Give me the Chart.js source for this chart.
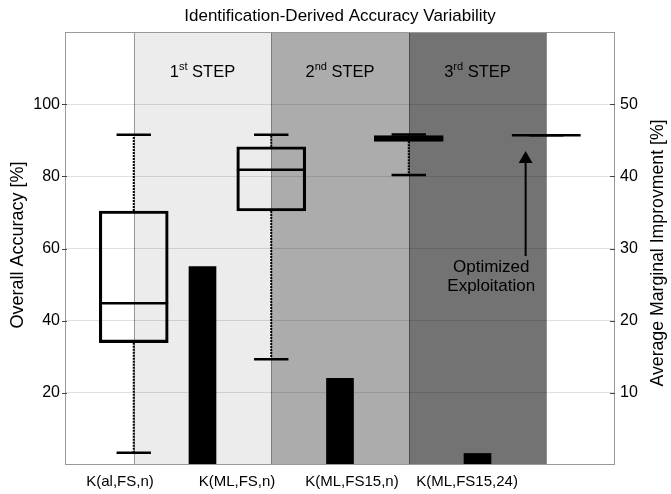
<!DOCTYPE html>
<html><head><meta charset="utf-8">
<script src="https://cdn.jsdelivr.net/npm/chart.js@4"></script>
<style>html,body{margin:0;padding:0;background:#fff}</style>
</head><body>
<canvas id="c" width="671" height="494"></canvas>
<script>
// ---- data ----
const categories = ['K(al,FS,n)', 'K(ML,FS,n)', 'K(ML,FS15,n)', 'K(ML,FS15,24)'];
const whiskerLow  = [3.4, 29.3, 80.4, 91.4];
const q1          = [33.9, 70.4, 89.7, 91.4];
const median      = [44.8, 81.8, 90.5, 91.4];
const q3          = [70.4, 88.2, 91.3, 91.4];
const whiskerHigh = [91.5, 91.5, 91.6, 91.4];
const improvement = [27.5, 12.0, 1.6];           // right axis, between steps
const stepNames   = [['1', 'st'], ['2', 'nd'], ['3', 'rd']];
const leftTicks   = [20, 40, 60, 80, 100];
const rightTicks  = [10, 20, 30, 40, 50];
const annotation  = ['Optimized', 'Exploitation'];
const arrowFrom = 57.9, arrowTo = 84.8, annotationY = [54.7, 49.4];

// ---- layout helpers ----
const FONT = '"Liberation Sans", Arial, Helvetica, sans-serif';
const labelPositions = [-0.1, 0.751, 1.587, 2.424];
const arrowX = 2.85, annotationX = 2.6, capHalf = 0.125, boxHalf = 0.25;

function segs(fn) {
  const out = [];
  categories.forEach((c, i) => { fn(i).forEach(p => out.push(p)); out.push({x: i, y: null}); });
  return out;
}

const medianData = segs(i => [{x: i - boxHalf, y: median[i]}, {x: i + boxHalf, y: median[i]}]);
const capData = segs(i => [{x: i - capHalf, y: whiskerHigh[i]}, {x: i + capHalf, y: whiskerHigh[i]}, {x: i, y: null}, {x: i - capHalf, y: whiskerLow[i]}, {x: i + capHalf, y: whiskerLow[i]}]);
const whiskerData = segs(i => [{x: i, y: q3[i]}, {x: i, y: whiskerHigh[i]}, {x: i, y: null}, {x: i, y: q1[i]}, {x: i, y: whiskerLow[i]}]);

const decor = {
  id: 'decor',
  beforeDraw(chart) {
    const {ctx, chartArea: a, scales: {x}} = chart;
    ctx.save();
    const shades = ['#ececec', '#acacac', '#737373'];
    for (let i = 0; i < 3; i++) {
      const x0 = x.getPixelForValue(i), x1 = x.getPixelForValue(i + 1);
      ctx.fillStyle = shades[i];
      ctx.fillRect(x0, a.top, x1 - x0, a.bottom - a.top);
    }
    ctx.strokeStyle = 'rgba(0,0,0,0.35)';
    ctx.lineWidth = 1;
    for (let i = 0; i < 4; i++) {
      const px = Math.round(x.getPixelForValue(i)) + 0.5;
      ctx.beginPath(); ctx.moveTo(px, a.top); ctx.lineTo(px, a.bottom); ctx.stroke();
    }
    ctx.restore();
  },
  afterDatasetsDraw(chart) {
    const {ctx, chartArea: a, scales: {x, y}} = chart;
    ctx.save();
    ctx.fillStyle = '#000';
    ctx.textBaseline = 'alphabetic';
    // step labels
    const baseY = 77;
    stepNames.forEach((s, i) => {
      const big = '16.5px ' + FONT, small = '11px ' + FONT;
      ctx.font = big; const w1 = ctx.measureText(s[0]).width; const w3 = ctx.measureText(' STEP').width;
      ctx.font = small; const w2 = ctx.measureText(s[1]).width;
      const cx = x.getPixelForValue(i + 0.5);
      let sx = cx - (w1 + w2 + w3) / 2;
      ctx.textAlign = 'left';
      ctx.font = big; ctx.fillText(s[0], sx, baseY);
      ctx.font = small; ctx.fillText(s[1], sx + w1, baseY - 7);
      ctx.font = big; ctx.fillText(' STEP', sx + w1 + w2, baseY);
    });
    // annotation
    ctx.font = '17px ' + FONT;
    ctx.textAlign = 'center';
    ctx.textBaseline = 'middle';
    annotation.forEach((t, k) => ctx.fillText(t, x.getPixelForValue(annotationX), y.getPixelForValue(annotationY[k])));
    ctx.restore();
  },
  afterDraw(chart) {
    const {ctx, chartArea: a, scales: {y, y2}} = chart;
    ctx.save();
    ctx.strokeStyle = '#999';
    ctx.lineWidth = 1;
    ctx.strokeRect(Math.round(a.left) + 0.5, Math.round(a.top) + 0.5, Math.round(a.right - a.left) - 1, Math.round(a.bottom - a.top) - 1);
    ctx.strokeStyle = '#444';
    leftTicks.forEach(v => { const py = Math.round(y.getPixelForValue(v)) + 0.5; ctx.beginPath(); ctx.moveTo(a.left - 3, py); ctx.lineTo(a.left + 2, py); ctx.stroke(); });
    rightTicks.forEach(v => { const py = Math.round(y2.getPixelForValue(v)) + 0.5; ctx.beginPath(); ctx.moveTo(a.right - 5, py); ctx.lineTo(a.right, py); ctx.stroke(); });
    // title and axis titles
    ctx.fillStyle = '#000';
    ctx.textAlign = 'center';
    ctx.textBaseline = 'middle';
    ctx.font = '17px ' + FONT;
    ctx.fillText('Identification-Derived Accuracy Variability', (a.left + a.right) / 2, 16);
    ctx.font = '18px ' + FONT;
    ctx.save(); ctx.translate(18, 245); ctx.rotate(-Math.PI / 2); ctx.fillText('Overall Accuracy [%]', 0, 0); ctx.restore();
    ctx.font = '17.7px ' + FONT;
    ctx.save(); ctx.translate(658, 253); ctx.rotate(-Math.PI / 2); ctx.fillText('Average Marginal Improvment [%]', 0, 0); ctx.restore();
    ctx.restore();
  }
};

new Chart(document.getElementById('c'), {
  data: {
    datasets: [
      { type: 'bar', label: 'improvement', yAxisID: 'y2', grouped: false, barThickness: 27,
        backgroundColor: '#000', borderWidth: 0,
        data: improvement.map((v, i) => ({x: i + 0.5, y: v})) },
      { type: 'bar', label: 'box', yAxisID: 'y', grouped: false, barThickness: 69,
        backgroundColor: 'rgba(0,0,0,0)', borderColor: '#000', borderWidth: 2.5, borderSkipped: false,
        data: categories.map((c, i) => ({x: i, y: [q1[i], q3[i]]})) },
      { type: 'line', label: 'whiskers', yAxisID: 'y', data: whiskerData, borderColor: '#000', borderWidth: 2,
        borderDash: [2, 1], pointRadius: 0, spanGaps: false, tension: 0 },
      { type: 'line', label: 'caps', yAxisID: 'y', data: capData, borderColor: '#000', borderWidth: 2.5,
        pointRadius: 0, spanGaps: false, tension: 0 },
      { type: 'line', label: 'median', yAxisID: 'y', data: medianData, borderColor: '#000', borderWidth: 2.5,
        pointRadius: 0, spanGaps: false, tension: 0 },
      { type: 'line', label: 'arrow', yAxisID: 'y', data: [{x: arrowX, y: arrowFrom}, {x: arrowX, y: arrowTo}],
        borderColor: '#000', borderWidth: 2, pointRadius: [0, 8], pointStyle: 'triangle',
        pointBackgroundColor: '#000', pointBorderColor: '#000', pointBorderWidth: 0 }
    ]
  },
  options: {
    responsive: false, animation: false, devicePixelRatio: 1,
    layout: { padding: { top: 32, left: 0, right: 0, bottom: 0 } },
    plugins: { legend: { display: false }, tooltip: { enabled: false }, title: { display: false } },
    scales: {
      x: { type: 'linear', position: 'bottom', min: -0.5, max: 3.5, offset: false, bounds: 'data',
        afterBuildTicks: s => { s.ticks = labelPositions.map(v => ({value: v})); },
        afterFit: s => { s.height = 29; },
        grid: { display: false, drawTicks: false, offset: false }, border: { display: false },
        ticks: { autoSkip: false, maxRotation: 0, padding: 8, color: '#000', font: { family: FONT, size: 15 },
          callback: (v, i) => categories[i] } },
      y: { type: 'linear', position: 'left', min: 0, max: 120,
        afterBuildTicks: s => { s.ticks = leftTicks.map(v => ({value: v})); },
        afterFit: s => { s.width = 65; },
        grid: { color: 'rgba(0,0,0,0.12)', drawTicks: false }, border: { display: false },
        ticks: { padding: 5, color: '#000', font: { family: FONT, size: 16 } } },
      y2: { type: 'linear', position: 'right', min: 0, max: 60,
        afterBuildTicks: s => { s.ticks = rightTicks.map(v => ({value: v})); },
        afterFit: s => { s.width = 56; },
        grid: { display: false, drawTicks: false }, border: { display: false },
        ticks: { padding: 5, color: '#000', font: { family: FONT, size: 16 } } }
    }
  },
  plugins: [decor]
});
</script>
</body></html>
